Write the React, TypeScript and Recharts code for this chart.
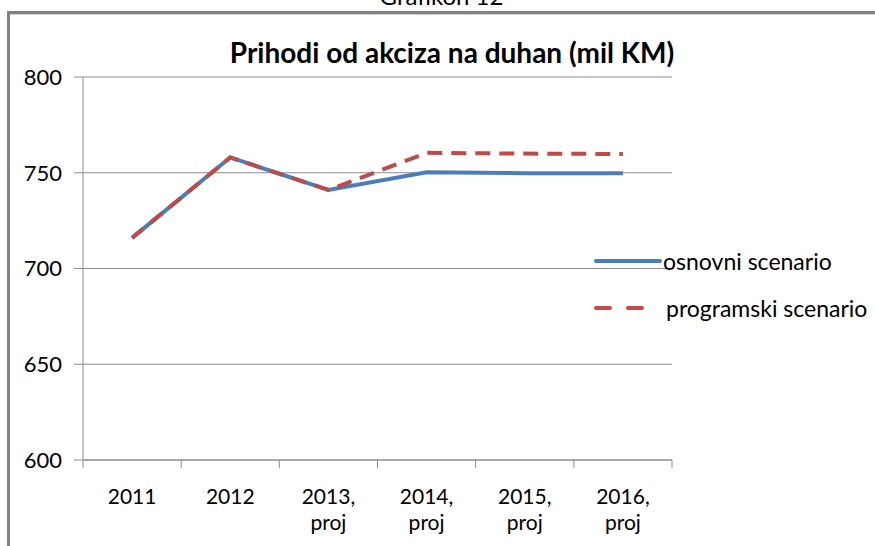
import React from 'react';
import { LineChart, Line, XAxis, YAxis, CartesianGrid, Legend } from 'recharts';

const categories = ['2011', '2012', '2013, proj', '2014, proj', '2015, proj', '2016, proj'];
const osnovni = [716, 758, 741, 750.2, 749.8, 749.7];
const programski = [716, 758, 741, 760.4, 760, 759.8];
const yTicks = [600, 650, 700, 750, 800];
const boundaryTicks = [0, 1, 2, 3, 4, 5, 6];

const data = categories.map((c, i) => ({ cat: c, idx: i + 0.5, osnovni: osnovni[i], programski: programski[i] }));

const FONT = 'Lato, "Open Sans", sans-serif';
const GRID = '#8c8c8c';

const XTick = (props: any) => {
  const { x, y, payload } = props;
  const v: string = payload.value;
  const parts = v.includes(', ') ? [v.split(', ')[0] + ',', v.split(', ')[1]] : [v];
  return (
    <text x={x} y={y} textAnchor="middle" fontFamily={FONT} fontSize={21} fill="#000">
      {parts.map((p, i) => (
        <tspan key={i} x={x} dy={i === 0 ? 35 : 26}>{p}</tspan>
      ))}
    </text>
  );
};

const BoundaryTick = (props: any) => {
  const { x, y } = props;
  return <line x1={x} x2={x} y1={y} y2={y + 8} stroke={GRID} strokeWidth={1} />;
};

const LegendContent = (props: any) => {
  const { payload } = props;
  return (
    <div style={{ fontFamily: FONT, fontSize: 23 }}>
      {payload.map((e: any, i: number) => (
        <div key={i} style={{ display: 'flex', alignItems: 'center', height: 47 }}>
          <svg width={70} height={10} style={{ display: 'block' }}>
            <line x1={3} y1={5} x2={i === 0 ? 67 : 60} y2={5} stroke={e.color} strokeWidth={4}
              strokeLinecap="round" strokeDasharray={i === 0 ? undefined : '14 18'} />
          </svg>
          <span style={{ color: '#000', marginLeft: i === 0 ? 0 : 3 }}>{e.value}</span>
        </div>
      ))}
    </div>
  );
};

export default function App() {
  return (
    <div style={{ position: 'absolute', left: 0, top: 0, width: 875, height: 546, background: '#fff', overflow: 'hidden' }}>
      <div style={{ position: 'absolute', left: 7, top: 11, width: 875, height: 3, background: '#828282' }} />
      <div style={{ position: 'absolute', left: 7, top: 14, width: 875, height: 1, background: '#cfcfcf' }} />
      <div style={{ position: 'absolute', left: 7, top: 11, width: 3, height: 540, background: '#828282' }} />
      <div style={{ position: 'absolute', left: 0, width: 875, top: -17, textAlign: 'center', fontFamily: FONT, fontSize: 24, color: '#000', lineHeight: '26px' }}>
        <span style={{ position: 'relative', left: 4 }}>Grafikon 12</span>
      </div>
      <div style={{ position: 'absolute', left: 0, width: 904, top: 38, textAlign: 'center', fontFamily: FONT, fontSize: 28, lineHeight: '28px', fontWeight: 'bold', color: '#000', whiteSpace: 'nowrap' }}>
        Prihodi od akciza na duhan (mil KM)
      </div>
      <div style={{ position: 'absolute', left: 0, top: 0 }}>
        <LineChart width={875} height={546} data={data} margin={{ top: 77, right: 203, bottom: 26, left: 23 }}>
          <CartesianGrid horizontal vertical={false} stroke={GRID} strokeWidth={1} />
          <XAxis xAxisId="b" dataKey="idx" type="number" domain={[0, 6]} ticks={boundaryTicks}
            tick={<BoundaryTick />} height={1} tickSize={0} tickMargin={0} axisLine={{ stroke: GRID }}
            tickLine={false} allowDataOverflow />
          <XAxis xAxisId="c" dataKey="cat" type="category" scale="band" height={59} tickLine={false}
            axisLine={false} tick={<XTick />} interval={0} />
          <YAxis domain={[600, 800]} ticks={yTicks} width={60} tickSize={9} axisLine={{ stroke: GRID }}
            tickLine={{ stroke: GRID }} tick={{ fontFamily: FONT, fontSize: 22, fill: '#000' }} tickMargin={12} />
          <Line xAxisId="c" dataKey="osnovni" name="osnovni scenario" stroke="#4a7ebb" strokeWidth={4}
            dot={false} isAnimationActive={false} />
          <Line xAxisId="c" dataKey="programski" name="programski scenario" stroke="#be4b48" strokeWidth={4}
            strokeDasharray="15 9" dot={false} isAnimationActive={false} />
          <Legend layout="horizontal" align="center" verticalAlign="middle" content={<LegendContent />}
            wrapperStyle={{ left: 593, top: 237, width: 282 }} />
        </LineChart>
      </div>
    </div>
  );
}
